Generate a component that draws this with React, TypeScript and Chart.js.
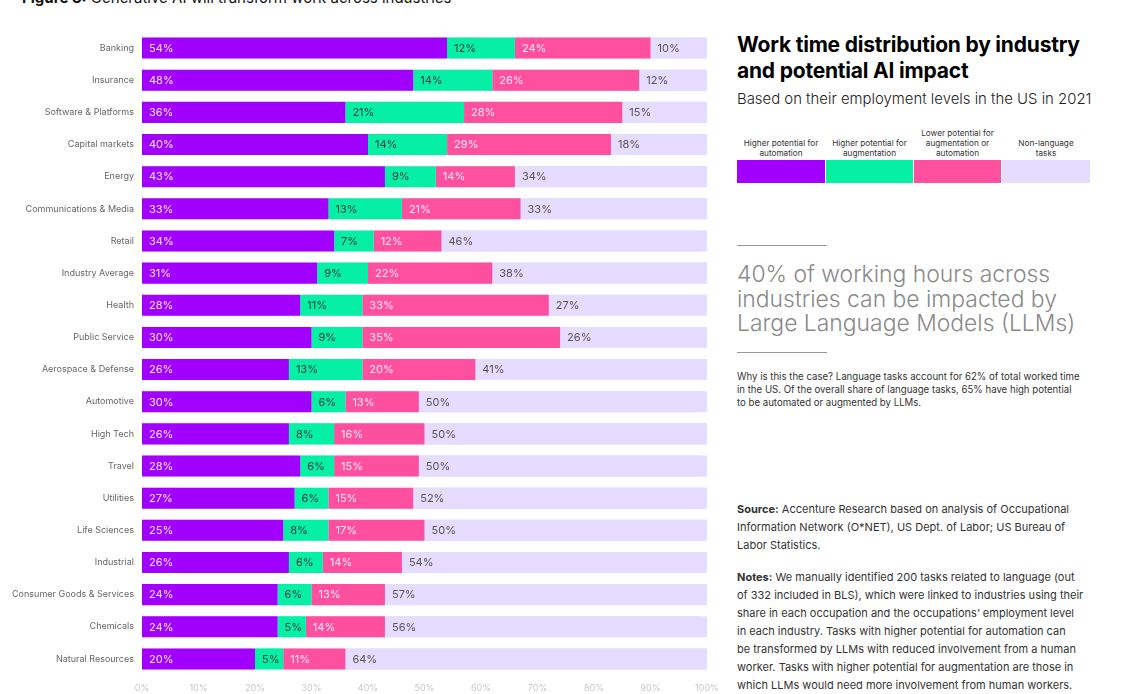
import React, { useEffect, useRef } from "react";
import { Chart, registerables } from "chart.js";

Chart.register(...registerables);

const categories = [
  "Banking",
  "Insurance",
  "Software & Platforms",
  "Capital markets",
  "Energy",
  "Communications & Media",
  "Retail",
  "Industry Average",
  "Health",
  "Public Service",
  "Aerospace & Defense",
  "Automotive",
  "High Tech",
  "Travel",
  "Utilities",
  "Life Sciences",
  "Industrial",
  "Consumer Goods & Services",
  "Chemicals",
  "Natural Resources",
];
const automation = [54, 48, 36, 40, 43, 33, 34, 31, 28, 30, 26, 30, 26, 28, 27, 25, 26, 24, 24, 20];
const augmentation = [12, 14, 21, 14, 9, 13, 7, 9, 11, 9, 13, 6, 8, 6, 6, 8, 6, 6, 5, 5];
const lowerPotential = [24, 26, 28, 29, 14, 21, 12, 22, 33, 35, 20, 13, 16, 15, 15, 17, 14, 13, 14, 11];
const nonLanguage = [10, 12, 15, 18, 34, 33, 46, 38, 27, 26, 41, 50, 50, 50, 52, 50, 54, 57, 56, 64];

const seriesNames = [
  "Higher potential for automation",
  "Higher potential for augmentation",
  "Lower potential for augmentation or automation",
  "Non-language tasks",
];
const legendLines = [
  ["Higher potential for", "automation"],
  ["Higher potential for", "augmentation"],
  ["Lower potential for", "augmentation or", "automation"],
  ["Non-language", "tasks"],
];
const xTicks = [0, 10, 20, 30, 40, 50, 60, 70, 80, 90, 100];

const COLORS = ["#A100FF", "#05F0A5", "#FF50A0", "#E6DCFF"];
const LABEL_COLORS = ["#F3E8FF", "#3a3a3a", "#FFEAF4", "#555555"];
const FONT = "Inter, 'Noto Sans', sans-serif";

const trackPlugin = {
  id: "track",
  beforeDatasetsDraw(chart: any) {
    const { ctx, scales } = chart;
    const meta = chart.getDatasetMeta(0);
    const x0 = scales.x.getPixelForValue(0);
    const x1 = scales.x.getPixelForValue(100);
    ctx.save();
    ctx.fillStyle = COLORS[3];
    meta.data.forEach((el: any) => {
      const h = el.height;
      ctx.fillRect(x0, el.y - h / 2, x1 - x0, h);
    });
    ctx.restore();
  },
};

const segLabelPlugin = {
  id: "segLabels",
  afterDatasetsDraw(chart: any) {
    const { ctx } = chart;
    ctx.save();
    ctx.font = `400 11px ${FONT}`;
    ctx.textBaseline = "middle";
    ctx.textAlign = "left";
    chart.data.datasets.forEach((ds: any, di: number) => {
      const meta = chart.getDatasetMeta(di);
      ctx.fillStyle = LABEL_COLORS[di];
      meta.data.forEach((el: any, i: number) => {
        const start = Math.min(el.base, el.x);
        ctx.fillText(ds.data[i] + "%", start + 7, el.y + 0.5);
      });
    });
    ctx.restore();
  },
};

function BarChart() {
  const ref = useRef<HTMLCanvasElement | null>(null);
  useEffect(() => {
    if (!ref.current) return;
    const all = [automation, augmentation, lowerPotential, nonLanguage];
    const chart = new Chart(ref.current, {
      type: "bar",
      data: {
        labels: categories,
        datasets: all.map((d, i) => ({
          label: seriesNames[i],
          data: d,
          backgroundColor: COLORS[i],
          borderWidth: 0,
          barPercentage: 0.655,
          categoryPercentage: 1,
        })),
      },
      options: {
        indexAxis: "y",
        animation: false,
        responsive: false,
        maintainAspectRatio: false,
        layout: { padding: { top: 32, right: 13, left: 0, bottom: 0 } },
        plugins: {
          legend: { display: false },
          tooltip: { enabled: false },
        },
        scales: {
          x: {
            stacked: true,
            min: 0,
            max: 100,
            afterFit: (s: any) => {
              s.height = 19;
              s.paddingLeft = 0;
              s.paddingRight = 0;
            },
            afterBuildTicks: (s: any) => {
              s.ticks = xTicks.map((v) => ({ value: v }));
            },
            grid: { display: false, drawTicks: false },
            border: { display: false },
            ticks: {
              padding: 8,
              color: "#c8c8c8",
              font: { family: FONT, size: 9 },
              callback: (v: any) => v + "%",
              maxRotation: 0,
              autoSkip: false,
            },
          },
          y: {
            stacked: true,
            afterFit: (s: any) => {
              s.width = 142;
            },
            grid: { display: false, drawTicks: false },
            border: { display: false },
            ticks: {
              padding: 8,
              color: "#666666",
              font: { family: FONT, size: 9 },
              autoSkip: false,
            },
          },
        },
      },
      plugins: [trackPlugin, segLabelPlugin],
    } as any);
    return () => chart.destroy();
  }, []);
  return (
    <canvas
      ref={ref}
      width={720}
      height={694}
      style={{ position: "absolute", left: 0, top: 0, width: 720, height: 694 }}
    />
  );
}

const line = (top: number, extra: React.CSSProperties = {}) => ({
  position: "absolute" as const,
  left: 737,
  top,
  whiteSpace: "nowrap" as const,
  ...extra,
});

export default function App() {
  const paraLines = [
    "Why is this the case? Language tasks account for 62% of total worked time",
    "in the US. Of the overall share of language tasks, 65% have high potential",
    "to be automated or augmented by LLMs.",
  ];
  const sourceLines = [
    [<b key="b">Source:</b>, " Accenture Research based on analysis of Occupational"],
    ["Information Network (O*NET), US Dept. of Labor; US Bureau of"],
    ["Labor Statistics."],
  ];
  const notesLines = [
    [<b key="b">Notes:</b>, " We manually identified 200 tasks related to language (out"],
    ["of 332 included in BLS), which were linked to industries using their"],
    ["share in each occupation and the occupations\u2019 employment level"],
    ["in each industry. Tasks with higher potential for automation can"],
    ["be transformed by LLMs with reduced involvement from a human"],
    ["worker. Tasks with higher potential for augmentation are those in"],
    ["which LLMs would need more involvement from human workers."],
  ];
  const boxLefts = [737, 826, 914, 1002];
  const boxWidths = [88, 87, 87, 88];
  return (
    <div
      style={{
        position: "absolute",
        left: 0,
        top: 0,
        width: 1125,
        height: 694,
        overflow: "hidden",
        background: "#fff",
        fontFamily: FONT,
      }}
    >
      <div
        style={{
          position: "absolute",
          left: 22,
          top: -9,
          fontSize: 15,
          lineHeight: "14px",
          color: "#111",
          whiteSpace: "nowrap",
        }}
      >
        <b>Figure 3:</b> Generative AI will transform work across industries
      </div>
      <BarChart />
      <div style={line(32, { fontSize: 21, fontWeight: 700, lineHeight: "26px", color: "#000", letterSpacing: -0.2 })}>
        Work time distribution by industry
        <br />
        and potential AI impact
      </div>
      <div style={line(89, { fontSize: 14.9, fontWeight: 300, color: "#222", lineHeight: "20px" })}>
        Based on their employment levels in the US in 2021
      </div>
      {legendLines.map((ls, i) => (
        <React.Fragment key={i}>
          <div
            style={{
              position: "absolute",
              left: boxLefts[i] - 10,
              width: boxWidths[i] + 20,
              bottom: 694 - 158,
              textAlign: "center",
              fontSize: 8.2,
              lineHeight: "10px",
              color: "#333",
            }}
          >
            {ls.map((l, j) => (
              <div key={j}>{l}</div>
            ))}
          </div>
          <div
            style={{
              position: "absolute",
              left: boxLefts[i],
              top: 160,
              width: boxWidths[i],
              height: 23,
              background: COLORS[i],
            }}
          />
        </React.Fragment>
      ))}
      <div style={{ position: "absolute", left: 737, top: 245, width: 90, height: 1, background: "#999" }} />
      <div style={line(262, { fontSize: 22.9, fontWeight: 300, lineHeight: "24.5px", color: "#8a8a8a" })}>
        40% of working hours across
        <br />
        industries can be impacted by
        <br />
        Large Language Models (LLMs)
      </div>
      <div style={{ position: "absolute", left: 737, top: 352, width: 90, height: 1, background: "#999" }} />
      {paraLines.map((t, i) => (
        <div key={i} style={line(370 + i * 13, { fontSize: 9.65, lineHeight: "13px", color: "#333" })}>
          {t}
        </div>
      ))}
      {sourceLines.map((t, i) => (
        <div key={i} style={line(500 + i * 18, { fontSize: 11, lineHeight: "18px", color: "#333" })}>
          {t}
        </div>
      ))}
      {notesLines.map((t, i) => (
        <div key={i} style={line(568 + i * 18, { fontSize: 11, lineHeight: "18px", color: "#333" })}>
          {t}
        </div>
      ))}
    </div>
  );
}
